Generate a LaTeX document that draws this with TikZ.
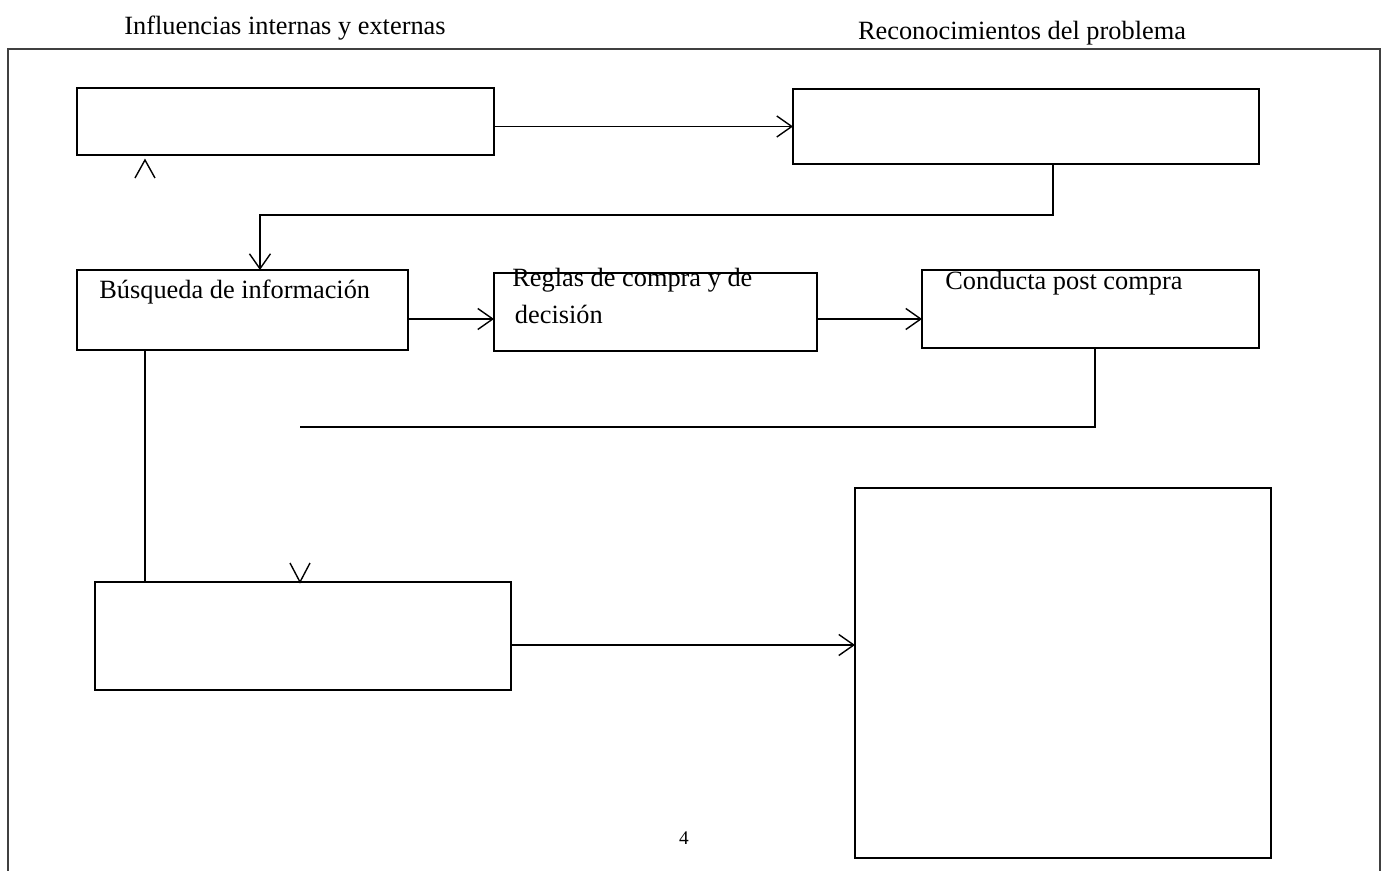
\documentclass[tikz,border=0pt]{standalone}
\usepackage{fontspec}
\setmainfont{Liberation Serif}
\usetikzlibrary{arrows.meta,calc}
\tikzset{
  boite/.style={draw,line width=1.3pt,anchor=north west,inner sep=0pt,outer sep=0pt},
  trait/.style={line width=0.8pt},
  fleche/.style={trait,-{Straight Barb[length=3mm,width=4.2mm]}},
  texte/.style={anchor=base west,inner sep=0pt,font=\fontsize{15}{20.5}\selectfont}
}
\begin{document}
\begin{tikzpicture}[x=0.02cm,y=-0.02cm]
    \useasboundingbox (0,0) rectangle (1385,871);
    \draw [line width=0.7pt,black!75](8,871) -- (8,49) -- (1380,49) -- (1380,871);%cadre ouvert en bas
    \node [texte,anchor=base] (influ) at (285,35) {Influencias internas y externas};
    \node [texte,anchor=base] (recon) at (1022,40) {Reconocimientos del problema};
    \node [boite,minimum width=8.34cm,minimum height=1.34cm] (infl) at (77,88) {};
    \node [boite,minimum width=9.32cm,minimum height=1.5cm] (probl) at (793,89) {};
    \node [boite,minimum width=6.62cm,minimum height=1.6cm] (busq) at (77,270) {};
    \node [boite,minimum width=6.46cm,minimum height=1.56cm] (regl) at (494,273) {};
    \node [boite,minimum width=6.74cm,minimum height=1.56cm] (post) at (922,270) {};
    \node [boite,minimum width=8.32cm,minimum height=2.16cm] (achat) at (95,582) {};
    \node [boite,minimum width=8.32cm,minimum height=7.4cm] (final) at (855,488) {};
    \node [texte] (tbusq) at (99,298) {Búsqueda de información};
    \node [texte,align=left] (tregl) at (512,323) {Reglas de compra y de\\\hspace{1.5pt}decisión};%base = 2e ligne
    \node [texte] (tpost) at (945,290) {Conducta post compra};
    \node [font=\fontsize{11}{13}\selectfont] (page) at (684,838) {4};
    \draw [fleche] (infl.east |- probl.west) -- (probl.west);
    \draw [fleche] ([xshift=.54cm]probl.south) -- ++(0,51) -| ([xshift=.35cm]busq.north);
    \draw [fleche] ([yshift=-.18cm]busq.east) -- ([yshift=-.18cm]busq.east -| regl.west);
    \draw [fleche] ([yshift=-.14cm]regl.east) -- ([yshift=-.14cm]regl.east -| post.west);
    \draw [fleche] ([yshift=-.18cm]achat.east) -- ([yshift=-.18cm]achat.east -| final.west);
    \coordinate (retour) at (300,427);
    \draw [trait] ([xshift=.09cm]post.south) |- (retour);
    \draw [trait] ([xshift=-1.95cm]busq.south) -- ([xshift=-1.95cm]busq.south |- achat.north);
    \coordinate (pointeA) at ([xshift=-1.95cm]busq.south |- 0,160);
    \coordinate (pointeF) at (retour |- achat.north);
    \draw [trait] ($(pointeA)+(-10,18)$) -- (pointeA) -- ($(pointeA)+(10,18)$);
    \draw [trait] ($(pointeF)+(-10,-19)$) -- (pointeF) -- ($(pointeF)+(10,-19)$);
\end{tikzpicture}
\end{document}
